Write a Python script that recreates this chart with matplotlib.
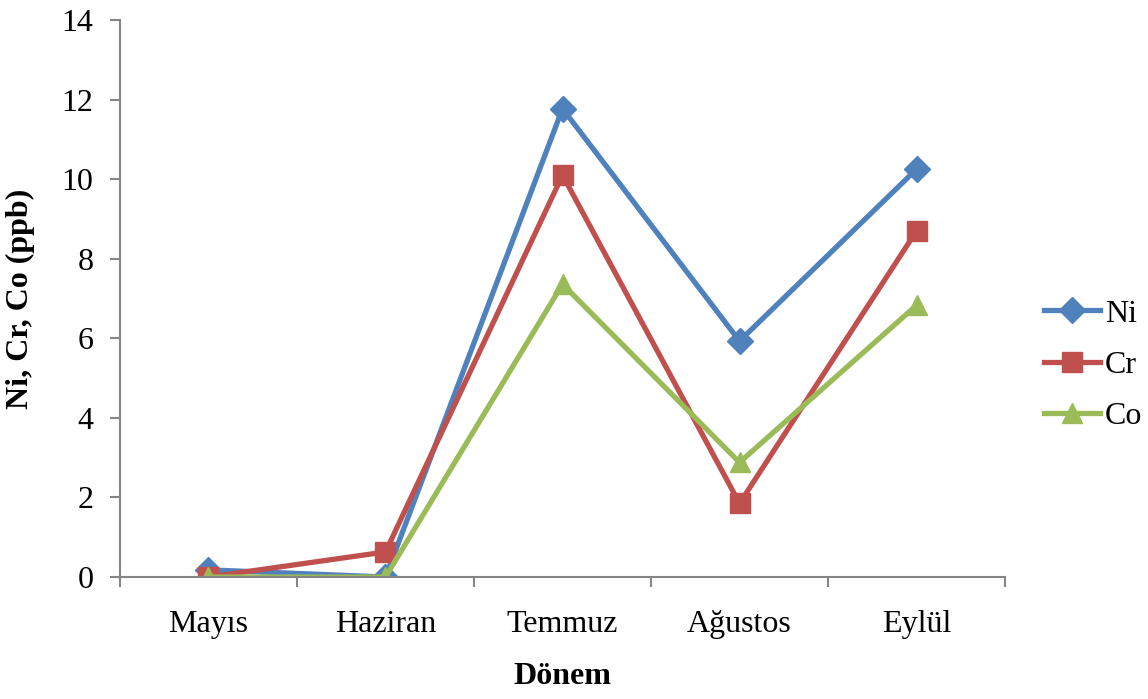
import matplotlib.pyplot as plt

# Values
months = ['Mayıs', 'Haziran', 'Temmuz', 'Ağustos', 'Eylül']
ni = [0.18, 0.0, 11.77, 5.93, 10.25]
cr = [0.0, 0.63, 10.1, 1.85, 8.7]
co = [0.0, 0.0, 7.36, 2.88, 6.83]

plt.rcParams['font.family'] = ['Liberation Serif', 'DejaVu Serif']

fig = plt.figure(figsize=(11.48, 6.99), dpi=100)
ax = fig.add_axes([0.1045, 0.1745, 0.771, 0.797])

x = list(range(len(months)))
ax.plot(x, ni, color='#4F81BD', lw=3.8, marker='D', ms=13, label='Ni')
ax.plot(x, cr, color='#C0504D', lw=3.8, marker='s', ms=15, label='Cr')
ax.plot(x, co, color='#9BBB59', lw=3.8, marker='^', ms=15, label='Co')

ax.set_xlim(-0.5, len(months) - 0.5)
ax.set_ylim(0, 14)
ax.set_yticks(range(0, 15, 2))
ax.set_xticks(x)
ax.set_xticklabels(months)
ax.set_xticks([i - 0.5 for i in range(len(months) + 1)], minor=True)
ax.tick_params(axis='x', which='major', length=0, pad=24, labelsize=23)
ax.tick_params(axis='x', which='minor', length=7, width=1.5, color='#868686', direction='out')
ax.tick_params(axis='y', length=7, width=1.5, color='#868686', labelsize=23, pad=12)

for side in ['top', 'right']:
    ax.spines[side].set_visible(False)
for side in ['left', 'bottom']:
    ax.spines[side].set_color('#868686')
    ax.spines[side].set_linewidth(1.5)

ax.set_xlabel('Dönem', fontsize=23, fontweight='bold', labelpad=16)
ax.set_ylabel('Ni, Cr, Co (ppb)', fontsize=23, fontweight='bold', labelpad=19)

fig.legend(loc='center left', bbox_to_anchor=(1044 / 1148, 1 - 365 / 699),
           bbox_transform=fig.transFigure, frameon=False, borderaxespad=0,
           borderpad=0, fontsize=23, handlelength=1.75, labelspacing=0.68,
           handletextpad=0.15)

fig.savefig('out.png', dpi=100)
